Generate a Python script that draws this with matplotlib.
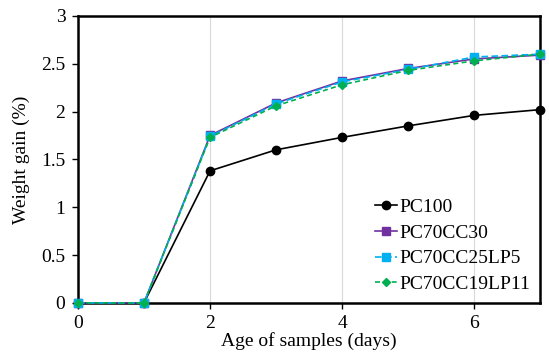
import matplotlib.pyplot as plt

# data
days = [0, 1, 2, 3, 4, 5, 6, 7]
pc100 = [0, 0, 1.38, 1.60, 1.73, 1.85, 1.96, 2.02]
pc70cc30 = [0, 0, 1.75, 2.09, 2.32, 2.45, 2.55, 2.59]
pc70cc25lp5 = [0, 0, 1.74, 2.08, 2.31, 2.44, 2.57, 2.60]
pc70cc19lp11 = [0, 0, 1.73, 2.06, 2.28, 2.43, 2.53, 2.60]

plt.rcParams["font.family"] = ["Liberation Serif", "DejaVu Serif"]
plt.rcParams["font.size"] = 14


def main():
    fig = plt.figure(figsize=(5.49, 3.53), dpi=100)
    ax = fig.add_axes([0.142, 0.142, 0.842, 0.813])

    ax.plot(days, pc100, color="black", marker="o", markersize=6,
            linewidth=1.2, label="PC100", clip_on=False, zorder=3)
    ax.plot(days, pc70cc30, color="#7030A0", marker="s", markersize=6,
            linewidth=1.2, label="PC70CC30", clip_on=False, zorder=3)
    ax.plot(days, pc70cc25lp5, color="#00B0F0", marker="s", markersize=6,
            linewidth=1.2, linestyle=(0, (4, 2)), label="PC70CC25LP5",
            clip_on=False, zorder=3)
    ax.plot(days, pc70cc19lp11, color="#00B050", marker="D", markersize=4.5,
            linewidth=1.2, linestyle=(0, (3, 2)), label="PC70CC19LP11",
            clip_on=False, zorder=3)

    ax.set_xlim(0, 7)
    ax.set_ylim(0, 3)
    ax.set_xticks([0, 2, 4, 6])
    ax.set_yticks([0, 0.5, 1, 1.5, 2, 2.5, 3])
    ax.set_yticklabels(["0", "0.5", "1", "1.5", "2", "2.5", "3"])
    ax.grid(True, axis="x", color="#d9d9d9", linewidth=0.8)
    ax.set_axisbelow(True)

    for s in ax.spines.values():
        s.set_linewidth(1.8)
        s.set_color("black")
    ax.tick_params(direction="out", length=4, width=1, pad=5)

    ax.set_xlabel("Age of samples (days)", labelpad=0)
    ax.set_ylabel("Weight gain (%)", labelpad=8)

    ax.legend(loc="lower right", bbox_to_anchor=(1.0, 0.0), frameon=False,
              handlelength=1.1, handletextpad=0.15, labelspacing=0.42,
              borderaxespad=0.1)

    fig.savefig("out.png", dpi=100)


if __name__ == "__main__":
    main()
